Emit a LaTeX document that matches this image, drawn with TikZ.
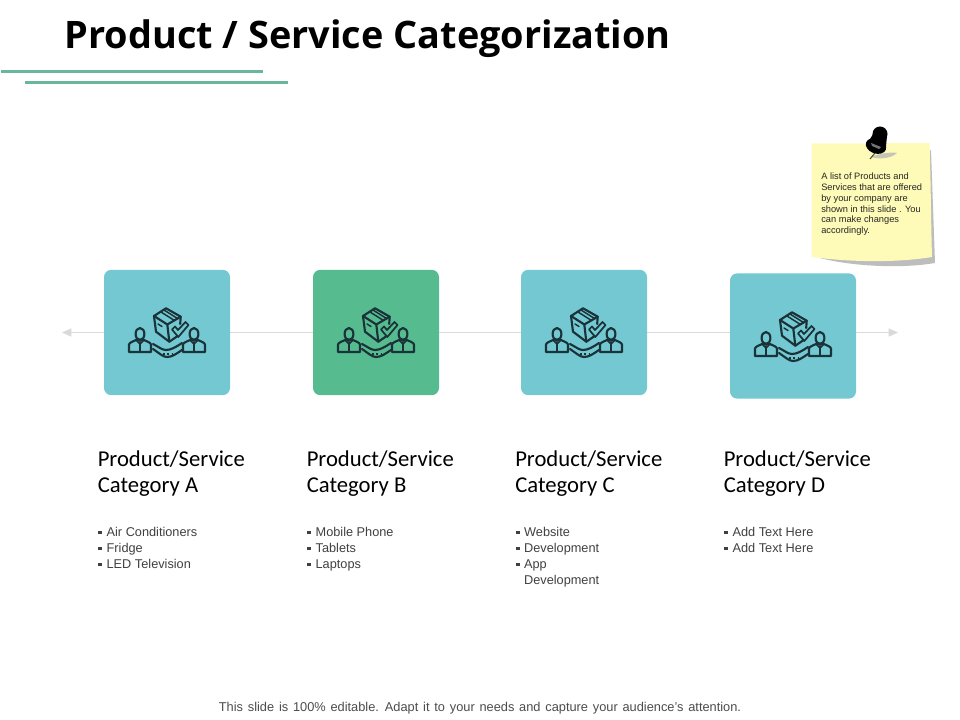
\documentclass[tikz,border=0pt]{standalone}
\usepackage{fontspec}
\setmainfont{Liberation Sans}
\newfontfamily\titlefont{Open Sans}
\newfontfamily\catfont{Carlito}
\usetikzlibrary{arrows.meta}
\definecolor{tealbox}{HTML}{73C8D2}
\definecolor{greenbox}{HTML}{57BB90}
\definecolor{rulegreen}{HTML}{69B79B}
\definecolor{ink}{HTML}{1A3338}
\definecolor{notefill}{HTML}{FEFBB8}
\definecolor{noteshadow}{HTML}{BDBDBD}
\definecolor{axis}{HTML}{D9D9D9}
\tikzset{
  tile/.style={rounded corners=5.5pt,minimum width=94.5pt,minimum height=94pt,inner sep=0pt},
  cathead/.style={anchor=north west,align=left,inner sep=0pt,font=\catfont\fontsize{17pt}{19.8pt}\selectfont},
  bullets/.style={anchor=north west,align=left,inner sep=0pt,text=black!75,font=\fontsize{9.55pt}{12pt}\selectfont},
  glyph/.style={draw=ink,line width=1.6pt,line join=round,line cap=round},
  axisline/.style={draw=axis,line width=0.7pt},
  pics/bundle/.style={code={
    % box
    \draw[glyph] (-13,-16) -- (-1,-23.7) -- (13.7,-15.3) -- (13.2,-8);
    \draw[glyph] (-13,-16) -- (0.3,-7.5) -- (13.7,-15.3);
    \draw[glyph] (-13,-16) -- (-11,-0.3) -- (2.3,9.7) -- (10,4.5);
    \draw[glyph] (0.3,-7.5) -- (2.3,9.7);
    \draw[glyph,line width=1.1pt] (-6,-20) -- (7.5,-11.5);
    \draw[glyph,line width=1.1pt] (-3,-22) -- (10.5,-13.5);
    \draw[glyph,line width=1.1pt] (-9,-8) -- (-5,-5.5);
    % check
    \draw[glyph,line width=1.3pt] (5,-2.5) -- (8,-5.5) -- (11,-2) -- (18.5,-10) -- (21.5,-7) -- (11.3,5) -- cycle;
    % people
    \foreach \s in {-1,1}{
      \begin{scope}[xscale=\s]
        \draw[glyph] (27,2) ellipse (4.4 and 6);
        \draw[glyph] (16,20) -- (16,12.5) .. controls (16.5,10.5) and (20,9.5) .. (23,8) -- (31,8) .. controls (34,9.5) and (37.5,10.5) .. (38,12.5) -- (38,20) -- cycle;
        \draw[glyph] (27,10) -- (27,19.5);
        \draw[glyph,line width=1.1pt] (23,8) -- (27,12) -- (31,8);
      \end{scope}
    }
    % hands
    \draw[glyph] (-14,12) .. controls (-8,15) and (-5,18) .. (-1,18) .. controls (4,18) and (9,15) .. (15,11);
    \draw[glyph] (-14,17) .. controls (-8,21) and (-4,25) .. (0,25) .. controls (5,25) and (9,22) .. (15,18);
    \draw[glyph,line width=1.5pt,dash pattern=on 1.6pt off 1.6pt,line cap=butt] (-4,21.5) -- (6,21.5);
  }}
}
\begin{document}
\begin{tikzpicture}[x=0.75pt,y=-0.75pt]
\useasboundingbox (0,0) rectangle (960,720);
\fill[white] (0,0) rectangle (960,720);
% title and rules
\node[anchor=base west,inner sep=0pt,font=\titlefont\bfseries\fontsize{28.4pt}{32pt}\selectfont] (title) at (64.5,48.5) {Product / Service Categorization};
\coordinate (r1a) at (1,71.5); \coordinate (r1b) at (263,71.5);
\coordinate (r2a) at (25,82.5); \coordinate (r2b) at (288,82.5);
\draw[rulegreen,line width=2pt] (r1a) -- (r1b);
\draw[rulegreen,line width=2pt] (r2a) -- (r2b);
% tiles
\node[tile,fill=tealbox] (A) at (167,332.5) {};
\node[tile,fill=greenbox] (B) at (376,332.5) {};
\node[tile,fill=tealbox] (C) at (584,332.5) {};
\node[tile,fill=tealbox] (D) at (793,336) {};
% axis
\coordinate (axL) at (62,332.5);
\coordinate (axR) at (898,332.5);
\draw[axisline,-{Triangle[length=7pt,width=6pt]}] (A.west) -- (axL);
\draw[axisline] (A.east) -- (B.west);
\draw[axisline] (B.east) -- (C.west);
\draw[axisline] (C.east) -- (C.east -| D.west);
\draw[axisline,-{Triangle[length=7pt,width=6pt]}] (C.east -| D.east) -- (axR);
% icons
\pic at (167,332) {bundle};
\pic at (376,332) {bundle};
\pic at (584,332) {bundle};
\pic at (793,336) {bundle};
% headings
\node[cathead] (hA) at (97.5,450) {Product/Service\\Category A};
\node[cathead] (hB) at (306.5,450) {Product/Service\\Category B};
\node[cathead] (hC) at (515,450) {Product/Service\\Category C};
\node[cathead] (hD) at (723.5,450) {Product/Service\\Category D};
% lists
\newcommand{\bul}{\makebox[6.3pt][l]{\raisebox{1.9pt}{\rule{2.8pt}{2.8pt}}}}
\node[bullets] (lA) at (98,527.5) {\bul Air Conditioners\\\bul Fridge\\\bul LED Television};
\node[bullets] (lB) at (307,527.5) {\bul Mobile Phone\\\bul Tablets\\\bul Laptops};
\node[bullets] (lC) at (515.5,527.5) {\bul Website\\\bul Development\\\bul App\\\hspace*{6.3pt}Development};
\node[bullets] (lD) at (724,527.5) {\bul Add Text Here\\\bul Add Text Here};
% note
\fill[noteshadow] (820,255) -- (931,150) -- (935,263) .. controls (900,269) and (850,266) .. (820,258) -- cycle;
\fill[notefill] (811.5,143.5) -- (929.5,143) .. controls (931,190) and (931,225) .. (932,257) .. controls (895,263) and (850,262) .. (811.5,257) -- cycle;
\fill[black!28,opacity=0.8] (871,157) .. controls (880,153) and (892,152) .. (897,153) .. controls (892,158) and (880,160) .. (871,157) -- cycle;
\draw[black!70!notefill,line width=0.8pt] (875,153) -- (870,159);
\fill[black] (880,134) circle (7.5);
\fill[black,rotate around={-20:(876,146)}] (876,146) ellipse (10.5 and 7.5);
\fill[black] (873,134) -- (887,136) -- (886,146) -- (866,146) -- cycle;
\fill[black!55] (871,143) -- (881,147) -- (879,149) -- (872,146) -- cycle;
\node[anchor=north west,align=left,inner sep=0pt,text=black!85,font=\fontsize{6.95pt}{8.05pt}\selectfont] (note) at (821,173) {A list of Products and\\Services that are offered\\by your company are\\shown in this slide . You\\can make changes\\accordingly.};
% footer
\node[anchor=base,inner sep=0pt,text=black!70,font=\fontsize{9.6pt}{11pt}\selectfont] (foot) at (480,711) {\spaceskip=3.6pt plus 0pt This slide is 100\% editable. Adapt it to your needs and capture your audience's attention.};
\end{tikzpicture}
\end{document}
